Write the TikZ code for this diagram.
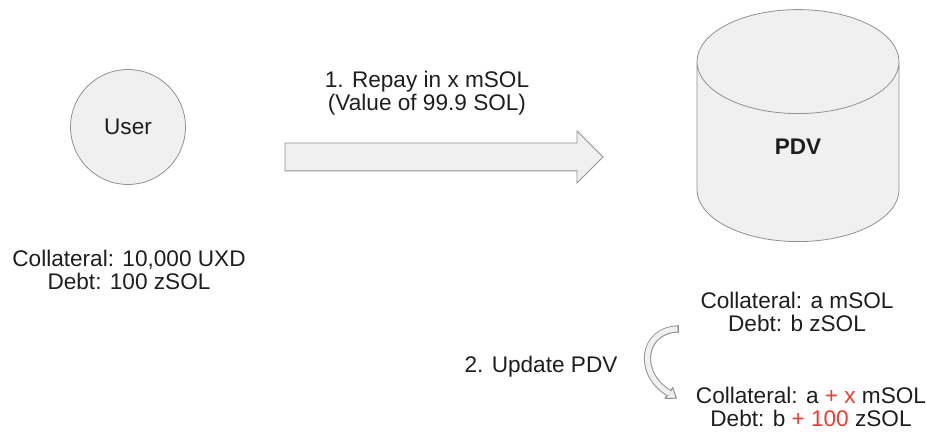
\documentclass[tikz,border=0pt]{standalone}
\usepackage{fontspec}
\setmainfont{Liberation Sans}
\usepackage{tikz}
\usetikzlibrary{shapes, arrows, positioning, calc}
\definecolor{shapefill}{RGB}{240,240,240}
\definecolor{shapeline}{RGB}{145,145,145}
\definecolor{textdark}{RGB}{30,30,30}
\definecolor{plusred}{RGB}{236,60,48}
\tikzset{x=0.5pt, y=-0.5pt, % one unit is one pixel of the layout
         every node/.style={ % Sets the text look for each node
           font=\fontsize{11.3}{11.6}\selectfont,
           text=textdark,
           align=center},
         actor/.style={ % The user circle
           circle,
           draw=shapeline,
           fill=shapefill,
           minimum size=57.5pt},
         store/.style={ % The vault drawn as a cylinder
           cylinder,
           shape border rotate=90,
           aspect=7.8,
           draw=shapeline,
           fill=shapefill,
           minimum width=101pt,
           minimum height=116pt},
         flow/.style={ % Block arrow for the repay step
           single arrow,
           draw=shapeline,
           fill=shapefill,
           minimum height=159pt,
           inner xsep=0pt,
           inner ysep=6.75pt,
           single arrow head extend=6pt}}

\begin{document}
\begin{tikzpicture}
\useasboundingbox (0,0) rectangle (927,448);

\node[actor] (user) at (128,127) {User};
\node (userinfo) at (129,270) {Collateral: 10,000 UXD\\Debt: 100 zSOL};

\node[store, anchor=south] (pdv) at (798,242) {};
\node[font=\fontsize{11.3}{11.6}\selectfont\bfseries] (pdvname) at (798,147) {PDV};
\node (pdvold) at (797,312) {Collateral: a mSOL\\Debt: b zSOL};
\node (pdvnew) at (811,407) {Collateral: a {\color{plusred}+ x} mSOL\\Debt: b {\color{plusred}+ 100} zSOL};

\node[flow] (repay) at (437,157) {};
\node (repaylabel) at (427,93) {1. Repay in x mSOL\\(Value of 99.9 SOL)};

\node (update) at (541,367) {2. Update PDV};

% curved block arrow from the old to the new vault state
\coordinate (curvetop) at (678,329);
\coordinate (curvebot) at (669,393);
\draw[shapeline, fill=shapefill, line width=0.5pt]
  ($(curvebot)+(-3.8,5.4)$) -- ($(curvebot)+(7.3,5.2)$) -- ($(curvebot)+(3.8,-5.4)$) -- cycle;
\draw[shapeline, line width=3.6pt] (curvetop) .. controls (642,330) and (636,374) .. ($(curvebot)+(0.8,0.6)$);
\draw[shapefill, line width=2.6pt] ($(curvetop)+(-0.5,0)$) .. controls (642,330) and (636,374) .. ($(curvebot)+(0.8,0.6)$);
\draw[shapeline, line width=0.5pt] ($(curvetop)+(0,-3.6)$) -- ($(curvetop)+(0,3.6)$);

\end{tikzpicture}
\end{document}
